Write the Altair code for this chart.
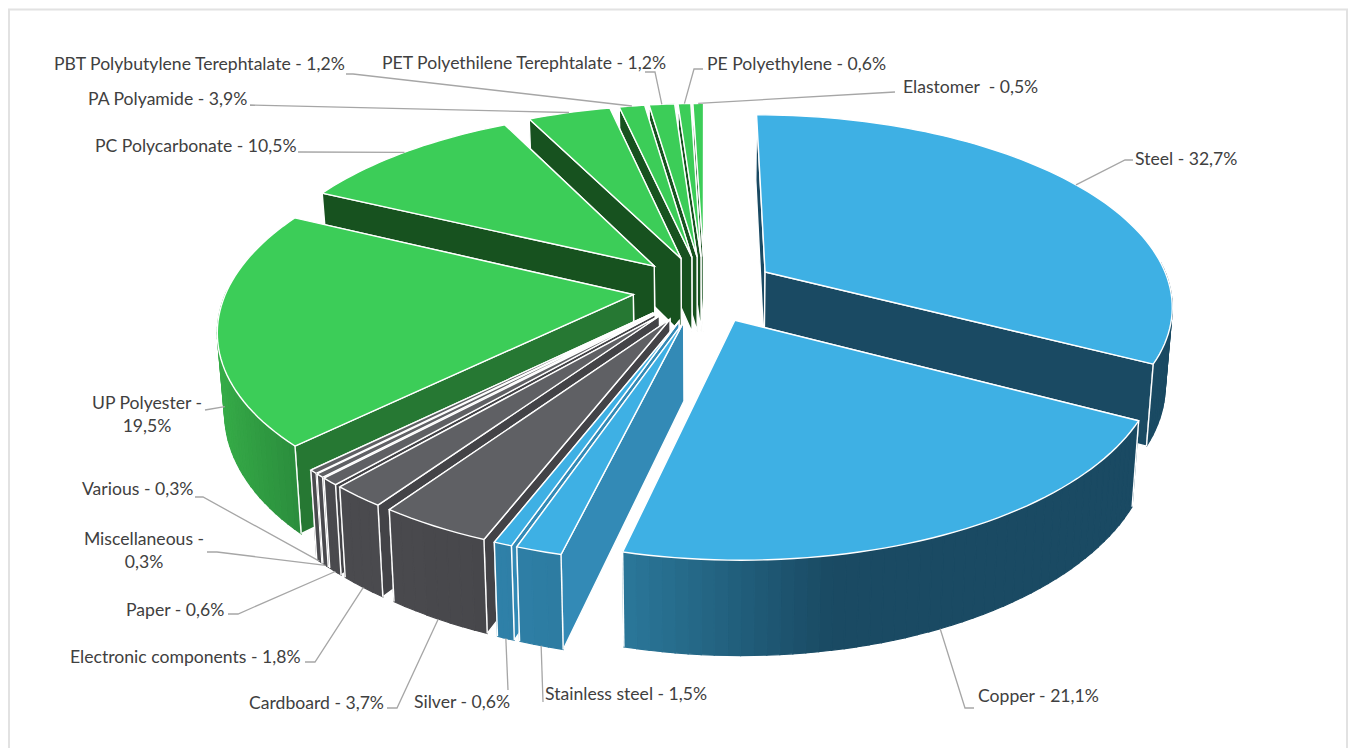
import math
import altair as alt

# ---- data ----
names = ["Steel", "Copper", "Stainless steel", "Silver", "Cardboard", "Electronic components",
         "Paper", "Miscellaneous", "Various", "UP Polyester", "PC Polycarbonate", "PA Polyamide",
         "PBT Polybutylene Terephtalate", "PET Polyethilene Terephtalate", "PE Polyethylene", "Elastomer "]
shares = [32.7, 21.1, 1.5, 0.6, 3.7, 1.8, 0.6, 0.3, 0.3, 19.5, 10.5, 3.9, 1.2, 1.2, 0.6, 0.5]
groups = ["metal", "metal", "metal", "metal", "grey", "grey", "grey", "grey", "grey",
          "green", "green", "green", "green", "green", "green", "green"]
label_texts = ["Steel - 32,7%", "Copper - 21,1%", "Stainless steel - 1,5%", "Silver - 0,6%", "Cardboard - 3,7%",
               "Electronic components - 1,8%", "Paper - 0,6%", "Miscellaneous -\n0,3%", "Various - 0,3%",
               "UP Polyester -\n19,5%", "PC Polycarbonate - 10,5%", "PA Polyamide - 3,9%",
               "PBT Polybutylene Terephtalate - 1,2%", "PET Polyethilene Terephtalate - 1,2%",
               "PE Polyethylene - 0,6%", "Elastomer \u00a0- 0,5%"]

# ---- layout of the labels (reference pixels) ----
label_x = [1135, 978, 545, 414, 249, 70, 126, 144, 82, 147, 95, 88, 54, 382, 707, 903]
label_y = [160, 697, 695, 703, 704, 658, 611, 540, 490, 404, 147, 100, 65, 64, 65, 88]
label_align = ["left", "left", "left", "left", "left", "left", "left", "center", "left", "center",
               "left", "left", "left", "left", "left", "left"]
knees = [[(1125, 160), (1133, 160)], [(965, 708), (974, 708)], [(543, 702)], [(508, 690)], [(397, 708), (387, 708)],
         [(315, 662), (305, 662)], [(238, 614), (228, 614)], [(217, 552), (207, 552)], [(203, 497), (195, 497)],
         [(205, 410)], [(298, 152)], [(250, 105)], [(353, 74), (346, 74)], [(655, 72), (645, 72)],
         [(694, 69), (703, 69)], [(895, 92)]]

# ---- styles ----
top_fill = {"metal": "#3EB0E4", "grey": "#5F6064", "green": "#3CCD58"}
wall_fill = {"metal": "#338AB6", "grey": "#434347", "green": "#17521F"}
outer_stops = {
    "metal": [(500, "#2F80A8"), (625, "#2A7799"), (830, "#1A4A63")],
    "grey": [(300, "#4B4B4F"), (500, "#47474B")],
    "green": [(215, "#36AC48"), (310, "#28873A")],
}
W, H = 1340, 740
CX, CY, RX, RY, K, EXPLODE, DEPTH, SHRINK = 704.5, 289, 406, 188.5, 0.166, 0.177, 77, 0.985


def hex2(c):
    return [int(c[i:i + 2], 16) for i in (1, 3, 5)]


def ramp(stops, x):
    if x <= stops[0][0]:
        return stops[0][1]
    for (a, ca), (b, cb) in zip(stops, stops[1:]):
        if x <= b:
            t = (x - a) / (b - a)
            return "#%02X%02X%02X" % tuple(round(p + (q - p) * t) for p, q in zip(hex2(ca), hex2(cb)))
    return stops[-1][1]


def proj(u, v, low=False):
    w = 1 / (1 - K * v)
    x = CX + RX * u * w
    y = CY + RY * v * w
    if low:
        x = CX + (x - CX) * SHRINK
        y += DEPTH * w
    return [round(x, 2), round(y, 2)]


def rim(a, ox, oz):
    return ox + math.sin(a), oz - math.cos(a)


def feature(kind, coords, fill, stroke, sw):
    return {"type": "Feature", "properties": {"fill": fill, "stroke": stroke, "sw": sw},
            "geometry": {"type": kind, "coordinates": coords}}


def poly(pts, fill, stroke, sw):
    return feature("Polygon", [pts + [pts[0]]], fill, stroke, sw)


total = sum(shares)
slices = []
cum = 0
for i, s in enumerate(shares):
    a0 = cum / total * 2 * math.pi
    cum += s
    a1 = cum / total * 2 * math.pi
    mid = (a0 + a1) / 2
    slices.append((i, a0, a1, mid, EXPLODE * math.sin(mid), -EXPLODE * math.cos(mid)))

shapes = []
leaders = []
EDGE = "#FFFFFF"
for i, a0, a1, mid, ox, oz in sorted(slices, key=lambda t: t[5]):
    g = groups[i]
    n = max(3, int((a1 - a0) / math.radians(1.5)))
    angles = [a0 + (a1 - a0) * j / n for j in range(n + 1)]
    arc = [rim(a, ox, oz) for a in angles]
    apex = (ox, oz)
    wall_col = "#1A4A63" if i < 2 else ("#267833" if i == 9 else wall_fill[g])
    # the radial wall that faces the viewer goes last, over the one that faces away
    walls = [a1, a0] if math.sin(a0) < 0 else [a0, a1]
    for a in walls:
        e = rim(a, ox, oz)
        shapes.append(poly([proj(*apex), proj(*e), proj(*e, True), proj(*apex, True)], wall_col, EDGE, 1.4))
    for j in range(n):
        if math.cos((angles[j] + angles[j + 1]) / 2) > 0.03:
            continue  # this part of the rim faces away
        p, q = arc[j], arc[j + 1]
        xm = (proj(*p)[0] + proj(*q)[0]) / 2
        c = "#1A4A63" if i == 0 else ramp(outer_stops[g], xm)
        shapes.append(poly([proj(*p), proj(*q), proj(*q, True), proj(*p, True)], c, c, 1.2))
    for a in (a0, a1):
        if math.cos(a) < 0.03:
            e = rim(a, ox, oz)
            shapes.append(feature("LineString", [proj(*e), proj(*e, True)], "transparent", EDGE, 1.4))
    shapes.append(poly([proj(*apex)] + [proj(*p) for p in arc], top_fill[g], EDGE, 1.4))
    # leader line: from the middle of the slice's rim to the label
    anchor = proj(*rim(mid, ox, oz), math.cos(mid) < 0)
    leaders.append(feature("LineString", [anchor] + [list(p) for p in knees[i]], "transparent", "#A6A6A6", 1.3))

# chart frame: left, top and right edges
frame = [feature("LineString", [[9, H + 8], [9, 9.5], [1347, 9.5], [1347, H + 8]], "transparent", "#E2E2E2", 2)]


def geo(values):
    return alt.Chart(alt.Data(values=values)).mark_geoshape().encode(
        fill=alt.Fill("properties.fill:N", scale=None),
        stroke=alt.Stroke("properties.stroke:N", scale=None),
        strokeWidth=alt.StrokeWidth("properties.sw:Q", scale=None),
    ).project(type="identity", scale=1, translate=[-8, -8])


def text_layer(align):
    rows = [{"t": t, "x": x, "y": y} for t, x, y, a in zip(label_texts, label_x, label_y, label_align) if a == align]
    return alt.Chart(alt.Data(values=rows)).mark_text(
        align=align, baseline="middle", font="Lato", fontSize=17.6, color="#404040", lineBreak="\n", lineHeight=23,
    ).encode(
        x=alt.X("x:Q", scale=alt.Scale(domain=[8, 8 + W]), axis=None),
        y=alt.Y("y:Q", scale=alt.Scale(domain=[8 + H, 8]), axis=None),
        text="t:N",
    )


chart = alt.layer(
    geo(frame), geo(shapes), geo(leaders), text_layer("left"), text_layer("center"),
).properties(width=W, height=H, padding=0, background="white",
             autosize=alt.AutoSizeParams(type="none")).configure_view(stroke=None)

chart.save("out.html", embed_options={"renderer": "svg", "actions": False})
